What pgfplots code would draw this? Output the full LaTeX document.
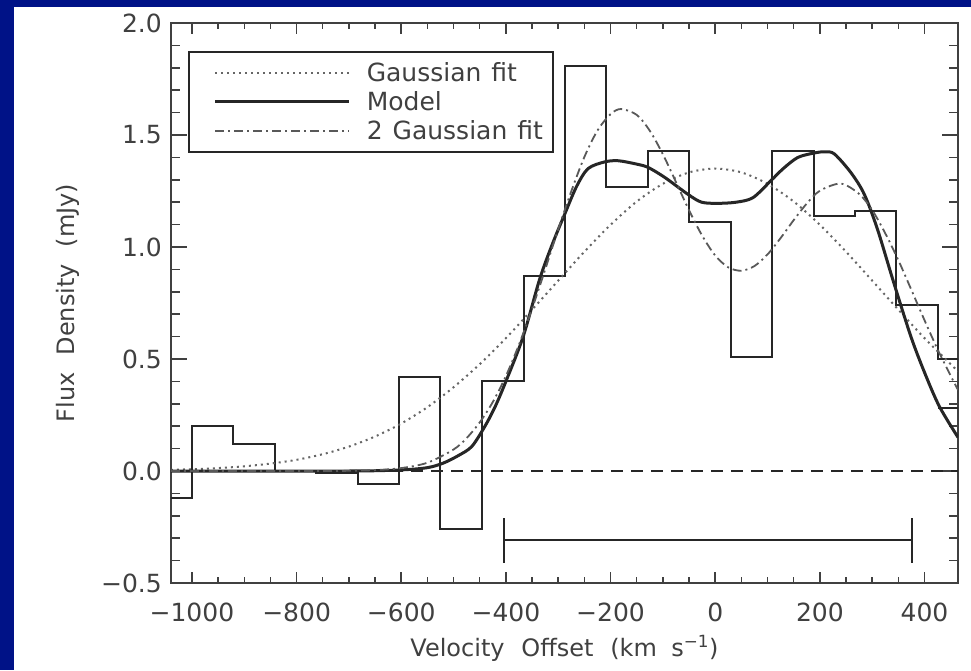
\documentclass[border=0pt]{standalone}
\usepackage{fontspec}
\setmainfont{DejaVu Sans}
\usepackage{pgfplots}
\pgfplotsset{compat=1.18}
\definecolor{bgblue}{RGB}{0,18,135}
\definecolor{txt}{gray}{0.25}
\begin{document}
\begin{tikzpicture}
\fill[bgblue] (-171pt,-87pt) rectangle (800pt,583pt);
\fill[white] (-157pt,-87pt) rectangle (800pt,576pt);
\useasboundingbox (-171pt,-87pt) rectangle (800pt,583pt);
\begin{axis}[
  at={(0pt,0pt)}, anchor=south west,
  scale only axis, width=787pt, height=560pt,
  xmin=-1040, xmax=464, ymin=-0.5, ymax=2.0,
  axis line style={black!75, line width=1.5pt},
  xtick={-1000,-800,-600,-400,-200,0,200,400},
  xticklabels={−1000,−800,−600,−400,−200,0,200,400},
  ytick={-0.5,0,0.5,1,1.5,2},
  yticklabels={−0.5,0.0,0.5,1.0,1.5,2.0},
  minor x tick num=3, minor y tick num=4,
  tick align=inside,
  every tick/.style={black!75, line width=1.5pt},
  xtick style={/pgfplots/major tick length=11pt, /pgfplots/minor tick length=6pt},
  ytick style={/pgfplots/major tick length=16pt, /pgfplots/minor tick length=9pt},
  ticklabel style={font=\fontsize{25}{30}\selectfont, text=txt, inner sep=0pt},
  xticklabel style={yshift=-20pt},
  yticklabel style={xshift=-9pt},
  xlabel={Velocity\hspace{0.7em}Offset\hspace{0.7em}(km\hspace{0.6em}s\textsuperscript{−1})},
  ylabel={Flux\hspace{0.7em}Density\hspace{0.7em}(mJy)},
  every axis x label/.style={at={(axis description cs:0.5,-0.132)}, anchor=base, font=\fontsize{24}{28}\selectfont, text=txt},
  every axis y label/.style={at={(axis description cs:-0.122,0.5)}, rotate=90, anchor=base, font=\fontsize{24}{28}\selectfont, text=txt},
  legend style={at={(rel axis cs:0.0216,0.95)}, anchor=north west, draw=black!85, line width=1.5pt, fill=white,
    font=\fontsize{25}{30}\selectfont, text=txt, inner xsep=10pt, inner ysep=12pt, row sep=11pt, column sep=16pt,
    nodes={inner sep=0pt, text height=18pt, text depth=0pt}},
  legend cell align=left,
  legend image code/.code={\path (0pt,0pt); \draw[#1] (15pt,0pt) -- (149pt,0pt);},
]
% histogram
\addplot[const plot, black!85, line width=2pt, forget plot] coordinates {
(-1079,-0.12) (-1000,0.20) (-921,0.12) (-842,0.0) (-762,-0.01) (-683,-0.06) (-604,0.42) (-525,-0.26)
(-446,0.40) (-366,0.87) (-287,1.81) (-208,1.27) (-129,1.43) (-50,1.11) (30,0.51) (109,1.43)
(188,1.14) (267,1.16) (346,0.74) (426,0.50) (505,0.50)};
\addplot[black!85, line width=2pt, forget plot] coordinates {(426,0.28) (505,0.28)};
% zero line
\addplot[black!85, line width=1.5pt, dash pattern=on 12pt off 8pt, forget plot] coordinates {(-1040,0) (464,0)};
% velocity range bar
\addplot[black!85, line width=2pt, forget plot] coordinates {(-404,-0.31) (376,-0.31)};
\addplot[black!85, line width=2pt, forget plot] coordinates {(-404,-0.21) (-404,-0.41)};
\addplot[black!85, line width=2pt, forget plot] coordinates {(376,-0.21) (376,-0.41)};
% Gaussian fit
\addplot[black!60, line width=2pt, dash pattern=on 2pt off 4pt, smooth] coordinates {
(-1040,0.005) (-1000,0.008) (-950,0.013) (-900,0.021) (-850,0.033) (-800,0.050) (-750,0.075) (-700,0.109)
(-650,0.154) (-600,0.212) (-550,0.285) (-500,0.374) (-450,0.477) (-400,0.593) (-350,0.720) (-300,0.850)
(-250,0.979) (-200,1.099) (-150,1.203) (-100,1.282) (-50,1.333) (0,1.350) (50,1.333) (100,1.282)
(150,1.203) (200,1.099) (250,0.979) (300,0.850) (350,0.720) (400,0.593) (450,0.477) (464,0.445)};
\addlegendentry{Gaussian\hspace{0.4em}fit}
% Model
\addplot[black!85, line width=3pt, smooth] coordinates {
(-1040,0.0) (-700,0.0) (-600,0.005) (-550,0.015) (-520,0.035) (-490,0.07) (-465,0.11) (-440,0.20)
(-420,0.29) (-400,0.40) (-367,0.60) (-335,0.86) (-310,1.02) (-287,1.15) (-265,1.27) (-243,1.35)
(-211,1.38) (-185,1.385) (-150,1.37) (-128,1.355) (-96,1.31) (-52,1.235) (-26,1.20) (5,1.195)
(40,1.20) (72,1.22) (106,1.295) (130,1.35) (158,1.40) (190,1.42) (210,1.425) (228,1.415)
(260,1.33) (285,1.235) (310,1.08) (340,0.85) (374,0.60) (400,0.44) (428,0.29) (464,0.15)};
\addlegendentry{Model}
% 2 Gaussian fit
\addplot[black!65, line width=1.8pt, dash pattern=on 9pt off 4pt on 2pt off 4pt, smooth] coordinates {
(-1040,0) (-750,0.000) (-700,0.001) (-650,0.004) (-600,0.013) (-550,0.037) (-500,0.096) (-475,0.147)
(-450,0.217) (-425,0.308) (-400,0.424) (-375,0.564) (-350,0.724) (-325,0.899) (-300,1.079) (-275,1.249)
(-250,1.402) (-225,1.520) (-200,1.593) (-180,1.616) (-150,1.590) (-125,1.519) (-100,1.414) (-75,1.290)
(-50,1.164) (-25,1.051) (0,0.962) (25,0.909) (50,0.894) (75,0.915) (100,0.967) (125,1.040) (150,1.120)
(175,1.194) (200,1.251) (240,1.283) (275,1.237) (300,1.165) (325,1.061) (350,0.941) (375,0.808)
(400,0.673) (425,0.543) (450,0.425) (464,0.362)};
\addlegendentry{2\hspace{0.4em}Gaussian\hspace{0.4em}fit}
\end{axis}
\end{tikzpicture}
\end{document}
